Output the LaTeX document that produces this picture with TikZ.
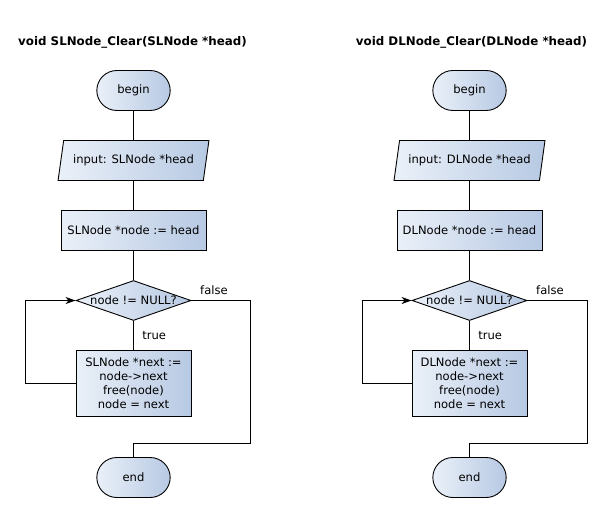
\documentclass[tikz,border=0pt]{standalone}
\usepackage{fontspec}
\setmainfont{DejaVu Sans}
\usetikzlibrary{positioning,shapes.geometric,shapes.misc,arrows.meta}

\definecolor{flowlight}{RGB}{234,240,248}
\definecolor{flowdark}{RGB}{183,201,227}

\begin{document}
\begin{tikzpicture}[%
    >={Stealth[length=10bp,width=7bp,inset=3bp]},
    x=1bp, y=1bp,
    node distance=70bp,
    on grid,
    every node/.style={font=\fontsize{11.6}{14}\selectfont},
    title/.style={font=\fontsize{11.9}{14}\selectfont\bfseries},
    box/.style={draw, line width=0.9bp, left color=flowlight, right color=flowdark},
    term/.style={box, rounded rectangle, minimum width=80bp, minimum height=40bp},
    io/.style={box, trapezium, trapezium left angle=74, trapezium right angle=106,
               trapezium stretches=true, minimum width=151bp, minimum height=40bp},
    proc/.style={box, rectangle, minimum width=145bp, minimum height=40bp},
    dec/.style={box, diamond, minimum width=115bp, minimum height=40bp, inner sep=0pt},
    body/.style={box, rectangle, minimum width=115bp, minimum height=66bp, align=center},
    line/.style={line width=0.9bp}
    ]
    \useasboundingbox (-0.5,0.5) rectangle (603.5,-511.5);

    % singly linked list
    \node[title] (st) at (132,-42) {void SLNode\_Clear(SLNode *head)};
    \node[term] (sb) at (133,-90) {begin};
    \node[io]   (si) [below=of sb] {input: SLNode *head};
    \node[proc] (sp) [below=of si] {SLNode *node := head};
    \node[dec]  (sd) [below=of sp] {\makebox[0pt]{node != NULL?}};
    \node[body] (sl) [below=83bp of sd] {SLNode *next :=\\node->next\\free(node)\\node = next};
    \node[term] (se) [below=94bp of sl] {end};
    \coordinate (sx) at (250,-443);

    \draw[line] (sb) -- (si);
    \draw[line] (si) -- (sp);
    \draw[line] (sp) -- (sd);
    \draw[line] (sd) -- node[right, xshift=5bp] {true} (sl);
    \draw[line,->] (sl.west) -- ++(-50,0) |- (sd.west);
    \draw[line] (sd.east) node[above right, xshift=5bp, yshift=2bp] {false} -| (sx) -| (se.north);

    % doubly linked list
    \node[title] (dt) at (471,-42) {void DLNode\_Clear(DLNode *head)};
    \node[term] (db) at (469,-90) {begin};
    \node[io]   (di) [below=of db] {input: DLNode *head};
    \node[proc] (dp) [below=of di] {DLNode *node := head};
    \node[dec]  (dd) [below=of dp] {\makebox[0pt]{node != NULL?}};
    \node[body] (dl) [below=83bp of dd] {DLNode *next :=\\node->next\\free(node)\\node = next};
    \node[term] (de) [below=94bp of dl] {end};
    \coordinate (dx) at (587,-443);

    \draw[line] (db) -- (di);
    \draw[line] (di) -- (dp);
    \draw[line] (dp) -- (dd);
    \draw[line] (dd) -- node[right, xshift=5bp] {true} (dl);
    \draw[line,->] (dl.west) -- ++(-49,0) |- (dd.west);
    \draw[line] (dd.east) node[above right, xshift=5bp, yshift=2bp] {false} -| (dx) -| (de.north);

\end{tikzpicture}
\end{document}
